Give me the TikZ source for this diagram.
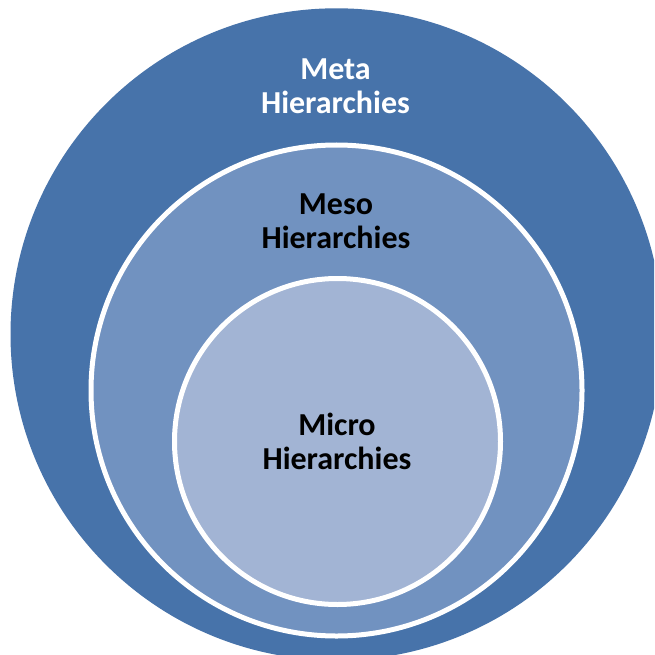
\documentclass[tikz,border=0pt]{standalone}
\usepackage{fontspec}
\setmainfont{Carlito}
\definecolor{metablue}{RGB}{71,115,170}
\definecolor{mesoblue}{RGB}{113,146,192}
\definecolor{microblue}{RGB}{162,180,212}
\begin{document}
\begin{tikzpicture}[x=1pt,y=-1pt,
  ring/.style={draw=white,line width=5pt},
  lbl/.style={align=center,font=\fontsize{32}{34}\selectfont\bfseries,inner sep=0pt,anchor=base}]
\useasboundingbox (0,0) rectangle (654,655);
\fill[white] (0,0) rectangle (654,655);
\begin{scope}
\clip (0,0) rectangle (654,655);
\fill[metablue] (336.5,334.3) circle[radius=326];
\end{scope}
\filldraw[ring,fill=mesoblue] (336.5,390.5) circle[radius=245.5];
\filldraw[ring,fill=microblue] (337.5,441.5) circle[radius=163];
\node[lbl,text=white] (meta) at (335.5,114) {Meta\\Hierarchies};
\node[lbl,text=black] (meso) at (336,248) {Meso\\Hierarchies};
\node[lbl,text=black] (micro) at (337,469.5) {Micro\\Hierarchies};
\end{tikzpicture}
\end{document}
